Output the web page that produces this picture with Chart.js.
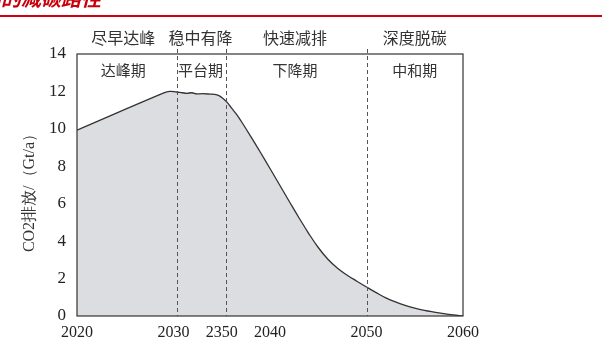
<!DOCTYPE html>
<html>
<head>
<meta charset="utf-8">
<script src="https://cdn.jsdelivr.net/npm/chart.js@4.4.1/dist/chart.umd.min.js"></script>
<style>
  html, body { margin: 0; padding: 0; background: #fff; }
  #wrap { width: 602px; height: 346px; position: relative; }
</style>
</head>
<body>
<div id="wrap"><canvas id="myChart"></canvas></div>
<script>
// emission path (Gt/a)
const years = [2020, 2029, 2029.6, 2030.3, 2030.9, 2031.4, 2031.9, 2032.4, 2033, 2033.7, 2034.5, 2035, 2035.5, 2036, 2036.5, 2037, 2038, 2039, 2040,
  2041, 2042, 2043, 2044, 2045, 2046, 2047, 2048, 2049, 2050, 2051, 2052, 2053, 2054, 2055, 2056, 2057, 2058, 2059, 2060];
const co2 = [9.93, 11.92, 12.0, 11.97, 11.93, 11.9, 11.93, 11.87, 11.88, 11.86, 11.82, 11.68, 11.45, 11.12, 10.8, 10.42, 9.6, 8.75, 7.88,
  7.0, 6.12, 5.25, 4.42, 3.66, 3.03, 2.55, 2.18, 1.86, 1.55, 1.25, 0.97, 0.75, 0.57, 0.42, 0.3, 0.21, 0.13, 0.06, 0];

const tickYears = [2020, 2030, 2035, 2040, 2050, 2060];
const tickLabels = ['2020', '2030', '2350', '2040', '2050', '2060'];
const yTicks = [0, 2, 4, 6, 8, 10, 12, 14];

const phaseLines = [2030.4, 2035.4, 2050];
const phaseTop = ['尽早达峰', '稳中有降', '快速减排', '深度脱碳'];
const phaseIn = ['达峰期', '平台期', '下降期', '中和期'];
const phaseMid = [2024.8, 2032.8, 2042.6, 2055.0];

const cjk = '"Noto Sans CJK SC", sans-serif';
const serif = '"Liberation Serif", "DejaVu Serif", serif';

const decor = {
  id: 'decor',
  beforeDatasetsDraw(chart) {
    const { ctx } = chart;
    ctx.save();
    // header
    ctx.fillStyle = '#c8000a';
    ctx.font = 'italic bold 20px ' + cjk;
    ctx.textAlign = 'right';
    ctx.textBaseline = 'alphabetic';
    ctx.fillText('实现碳中和的减碳路径', 101, 6);
    ctx.strokeStyle = '#d0000c';
    ctx.lineWidth = 2;
    ctx.beginPath();
    ctx.moveTo(0, 16);
    ctx.lineTo(602, 16);
    ctx.stroke();
    ctx.restore();
  },
  afterDatasetsDraw(chart) {
    const { ctx, chartArea: a, scales: { x } } = chart;
    ctx.save();
    // dashed phase lines
    ctx.strokeStyle = '#555';
    ctx.lineWidth = 1;
    ctx.setLineDash([4, 3]);
    phaseLines.forEach(v => {
      const px = Math.round(x.getPixelForValue(v)) + 0.5;
      ctx.beginPath();
      ctx.moveTo(px, a.top - 5);
      ctx.lineTo(px, a.bottom);
      ctx.stroke();
    });
    ctx.setLineDash([]);
    // frame
    ctx.strokeStyle = '#333';
    ctx.lineWidth = 1.2;
    ctx.strokeRect(a.left, a.top, a.right - a.left, a.bottom - a.top);
    // phase labels
    ctx.fillStyle = '#333';
    ctx.font = '16px ' + cjk;
    ctx.textAlign = 'center';
    ctx.textBaseline = 'middle';
    phaseTop.forEach((t, i) => ctx.fillText(t, x.getPixelForValue(phaseMid[i]), a.top - 16));
    ctx.font = '15px ' + cjk;
    phaseIn.forEach((t, i) => ctx.fillText(t, x.getPixelForValue(phaseMid[i]), a.top + 16));
    // y title
    ctx.translate(30, (a.top + a.bottom) / 2 + 4);
    ctx.rotate(-Math.PI / 2);
    ctx.font = '16px ' + serif;
    ctx.fillText('CO2排放/（Gt/a）', 0, 0);
    ctx.restore();
  }
};

new Chart(document.getElementById('myChart'), {
  type: 'line',
  data: {
    datasets: [{
      data: years.map((yr, i) => ({ x: yr, y: co2[i] })),
      borderColor: '#333',
      borderWidth: 1.3,
      backgroundColor: '#dcdde0',
      fill: 'origin',
      pointRadius: 0,
      tension: 0.4
    }]
  },
  options: {
    responsive: true,
    maintainAspectRatio: false,
    animation: false,
    layout: { padding: { left: 0, right: 139, top: 54, bottom: 0 } },
    plugins: { legend: { display: false }, tooltip: { enabled: false } },
    scales: {
      x: {
        type: 'linear',
        min: 2020,
        max: 2060,
        afterBuildTicks: s => { s.ticks = tickYears.map(v => ({ value: v })); },
        afterFit: s => { s.height = 30; },
        grid: { display: false, drawTicks: false },
        border: { display: false },
        ticks: {
          autoSkip: false,
          maxRotation: 0,
          padding: 7,
          color: '#222',
          font: { family: serif, size: 16 },
          callback: v => tickLabels[tickYears.indexOf(v)]
        }
      },
      y: {
        min: 0,
        max: 14,
        afterBuildTicks: s => { s.ticks = yTicks.map(v => ({ value: v })); },
        afterFit: s => { s.width = 77; },
        grid: { display: false, drawTicks: false },
        border: { display: false },
        ticks: {
          padding: 11,
          color: '#222',
          font: { family: serif, size: 17 }
        }
      }
    }
  },
  plugins: [decor]
});
</script>
</body>
</html>
